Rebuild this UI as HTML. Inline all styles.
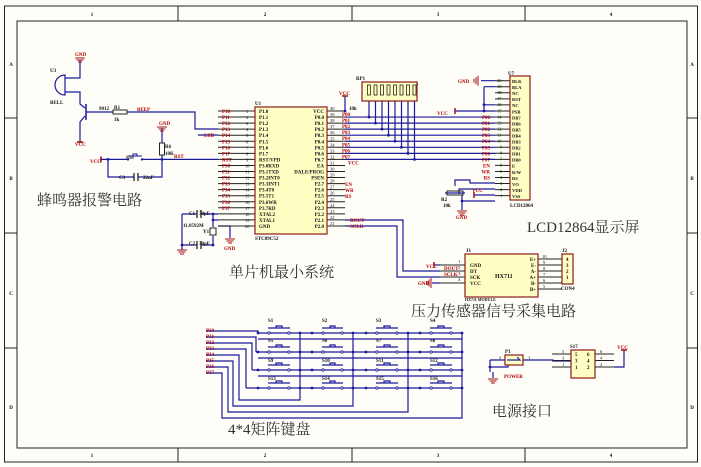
<!DOCTYPE html>
<html><head><meta charset="utf-8"><style>
html,body{margin:0;padding:0;background:#fffdf8;}
svg{display:block;font-family:"Liberation Serif","Noto Serif CJK SC",serif;}
.w{stroke:#1a1a9c;stroke-width:1.2;fill:none}
.k{stroke:#222;stroke-width:1;fill:none}
.chip{fill:#ffffc4;stroke:#8b1a1a;stroke-width:1.2}
.r{fill:#b00000;font-size:5px;font-weight:bold}
.b{fill:#111;font-size:5px;font-weight:bold}
.n{fill:#111;font-size:4.5px}
.big{fill:#333;font-size:15px;font-family:"Liberation Serif","Noto Serif CJK SC",serif}
</style></head><body>
<svg id="s" width="701" height="467" viewBox="0 0 701 467" xmlns="http://www.w3.org/2000/svg">
<rect x="4.5" y="6" width="693" height="456" fill="none" stroke="#222"/>
<rect x="17" y="21" width="670" height="427" fill="none" stroke="#222"/>
<g class="k"><path d="M178 6V21M352 6V21M525 6V21M178 448V462M352 448V462M525 448V462M4.5 118H17M4.5 233H17M4.5 348H17M687 118H698M687 233H698M687 348H698"/></g>
<g class="b" text-anchor="middle"><text x="92" y="16">1</text><text x="265" y="16">2</text><text x="438" y="16">3</text><text x="611" y="16">4</text>
<text x="92" y="457">1</text><text x="265" y="457">2</text><text x="438" y="457">3</text><text x="611" y="457">4</text>
<text x="11" y="66">A</text><text x="11" y="180">B</text><text x="11" y="295">C</text><text x="11" y="409">D</text>
<text x="692" y="66">A</text><text x="692" y="180">B</text><text x="692" y="295">C</text><text x="692" y="409">D</text></g>

<g id="wires"></g>
<rect class="chip" x="255" y="107" width="72" height="127"/>
<rect class="chip" x="510" y="76" width="20" height="124"/>
<rect class="chip" x="362" y="82" width="55" height="19"/>
<rect class="chip" x="465" y="254" width="73" height="43"/>
<rect class="chip" x="562" y="254" width="11" height="30"/>
<rect class="chip" x="505" y="355" width="18" height="10"/>
<rect class="chip" x="571" y="350" width="24" height="28"/>
<g id="parts"></g>

<text class="b" x="255" y="105">U1</text>
<text class="b" x="255" y="240">STC89C52</text>
<text class="r"><tspan x="222" y="113">P10</tspan><tspan x="222" dy="6.05">P11</tspan><tspan x="222" dy="6.05">P12</tspan><tspan x="222" dy="6.05">P13</tspan><tspan x="222" dy="6.05">P14</tspan><tspan x="222" dy="6.05">P15</tspan><tspan x="222" dy="6.05">P16</tspan><tspan x="222" dy="6.05">P17</tspan><tspan x="222" dy="6.05">RST</tspan><tspan x="222" dy="6.05">P30</tspan><tspan x="222" dy="6.05">P31</tspan><tspan x="222" dy="6.05">P32</tspan><tspan x="222" dy="6.05">P33</tspan><tspan x="222" dy="6.05">P34</tspan><tspan x="222" dy="6.05">P35</tspan><tspan x="222" dy="6.05">P36</tspan><tspan x="222" dy="6.05">P37</tspan></text>
<text class="n"><tspan x="246" y="113">1</tspan><tspan x="246" dy="6.05">2</tspan><tspan x="246" dy="6.05">3</tspan><tspan x="246" dy="6.05">4</tspan><tspan x="246" dy="6.05">5</tspan><tspan x="246" dy="6.05">6</tspan><tspan x="246" dy="6.05">7</tspan><tspan x="246" dy="6.05">8</tspan><tspan x="246" dy="6.05">9</tspan><tspan x="245" dy="6.05">10</tspan><tspan x="245" dy="6.05">11</tspan><tspan x="245" dy="6.05">12</tspan><tspan x="245" dy="6.05">13</tspan><tspan x="245" dy="6.05">14</tspan><tspan x="245" dy="6.05">15</tspan><tspan x="245" dy="6.05">16</tspan><tspan x="245" dy="6.05">17</tspan><tspan x="245" dy="6.05">18</tspan><tspan x="245" dy="6.05">19</tspan><tspan x="245" dy="6.05">20</tspan></text>
<text class="b"><tspan x="259" y="113">P1.0</tspan><tspan x="259" dy="6.05">P1.1</tspan><tspan x="259" dy="6.05">P1.2</tspan><tspan x="259" dy="6.05">P1.3</tspan><tspan x="259" dy="6.05">P1.4</tspan><tspan x="259" dy="6.05">P1.5</tspan><tspan x="259" dy="6.05">P1.6</tspan><tspan x="259" dy="6.05">P1.7</tspan><tspan x="259" dy="6.05">RST/VPD</tspan><tspan x="259" dy="6.05">P3.0RXD</tspan><tspan x="259" dy="6.05">P3.1TXD</tspan><tspan x="259" dy="6.05">P3.2INT0</tspan><tspan x="259" dy="6.05">P3.3INT1</tspan><tspan x="259" dy="6.05">P3.4T0</tspan><tspan x="259" dy="6.05">P3.5T1</tspan><tspan x="259" dy="6.05">P3.6WR</tspan><tspan x="259" dy="6.05">P3.7RD</tspan><tspan x="259" dy="6.05">XTAL2</tspan><tspan x="259" dy="6.05">XTAL1</tspan><tspan x="259" dy="6.05">GND</tspan></text>
<text class="b" text-anchor="end"><tspan x="324" y="113">VCC</tspan><tspan x="324" dy="6.05">P0.0</tspan><tspan x="324" dy="6.05">P0.1</tspan><tspan x="324" dy="6.05">P0.2</tspan><tspan x="324" dy="6.05">P0.3</tspan><tspan x="324" dy="6.05">P0.4</tspan><tspan x="324" dy="6.05">P0.5</tspan><tspan x="324" dy="6.05">P0.6</tspan><tspan x="324" dy="6.05">P0.7</tspan><tspan x="324" dy="6.05">EA</tspan><tspan x="324" dy="6.05">DALE/PROG</tspan><tspan x="324" dy="6.05">PSEN</tspan><tspan x="324" dy="6.05">P2.7</tspan><tspan x="324" dy="6.05">P2.6</tspan><tspan x="324" dy="6.05">P2.5</tspan><tspan x="324" dy="6.05">P2.4</tspan><tspan x="324" dy="6.05">P2.3</tspan><tspan x="324" dy="6.05">P2.2</tspan><tspan x="324" dy="6.05">P2.1</tspan><tspan x="324" dy="6.05">P2.0</tspan></text>
<text class="n"><tspan x="330" y="110">40</tspan><tspan x="330" dy="6.05">39</tspan><tspan x="330" dy="6.05">38</tspan><tspan x="330" dy="6.05">37</tspan><tspan x="330" dy="6.05">36</tspan><tspan x="330" dy="6.05">35</tspan><tspan x="330" dy="6.05">34</tspan><tspan x="330" dy="6.05">33</tspan><tspan x="330" dy="6.05">32</tspan><tspan x="330" dy="6.05">31</tspan><tspan x="330" dy="6.05">30</tspan><tspan x="330" dy="6.05">29</tspan><tspan x="330" dy="6.05">28</tspan><tspan x="330" dy="6.05">27</tspan><tspan x="330" dy="6.05">26</tspan><tspan x="330" dy="6.05">25</tspan><tspan x="330" dy="6.05">24</tspan><tspan x="330" dy="6.05">23</tspan><tspan x="330" dy="6.05">22</tspan><tspan x="330" dy="6.05">21</tspan></text>
<text class="r"><tspan x="342" y="116">P00</tspan><tspan x="342" dy="6.05">P01</tspan><tspan x="342" dy="6.05">P02</tspan><tspan x="342" dy="6.05">P03</tspan><tspan x="342" dy="6.05">P04</tspan><tspan x="342" dy="6.05">P05</tspan><tspan x="342" dy="6.05">P06</tspan><tspan x="342" dy="6.05">P07</tspan><tspan x="348" dy="6.05">VCC</tspan></text>
<text class="r"><tspan x="345" y="186">EN</tspan><tspan x="345" dy="6.05">WR</tspan><tspan x="345" dy="6.05">RS</tspan><tspan x="350" y="222">DOUT</tspan><tspan x="350" dy="6.05">SCLK</tspan></text>

<text class="b" x="508" y="75">U7</text>
<text class="b" x="510" y="207">LCD12864</text>
<text class="n"><tspan x="497" y="82">20</tspan><tspan x="497" dy="6.05">19</tspan><tspan x="497" dy="6.05">18</tspan><tspan x="497" dy="6.05">17</tspan><tspan x="497" dy="6.05">16</tspan><tspan x="497" dy="6.05">15</tspan><tspan x="497" dy="6.05">14</tspan><tspan x="497" dy="6.05">13</tspan><tspan x="497" dy="6.05">12</tspan><tspan x="497" dy="6.05">11</tspan><tspan x="497" dy="6.05">10</tspan><tspan x="500" dy="6.05">9</tspan><tspan x="500" dy="6.05">8</tspan><tspan x="500" dy="6.05">7</tspan><tspan x="500" dy="6.05">6</tspan><tspan x="500" dy="6.05">5</tspan><tspan x="500" dy="6.05">4</tspan><tspan x="500" dy="6.05">3</tspan><tspan x="500" dy="6.05">2</tspan><tspan x="500" dy="6.05">1</tspan></text>
<text class="b" style="font-size:4.6px"><tspan x="512" y="83">BLK</tspan><tspan x="512" dy="6.05">BLA</tspan><tspan x="512" dy="6.05">NC</tspan><tspan x="512" dy="6.05">RST</tspan><tspan x="512" dy="6.05">NC</tspan><tspan x="512" dy="6.05">PSB</tspan><tspan x="512" dy="6.05">DB7</tspan><tspan x="512" dy="6.05">DB6</tspan><tspan x="512" dy="6.05">DB5</tspan><tspan x="512" dy="6.05">DB4</tspan><tspan x="512" dy="6.05">DB3</tspan><tspan x="512" dy="6.05">DB2</tspan><tspan x="512" dy="6.05">DB1</tspan><tspan x="512" dy="6.05">DB0</tspan><tspan x="512" dy="6.05">E</tspan><tspan x="512" dy="6.05">R/W</tspan><tspan x="512" dy="6.05">RS</tspan><tspan x="512" dy="6.05">VO</tspan><tspan x="512" dy="6.05">VDD</tspan><tspan x="512" dy="6.05">VSS</tspan></text>
<text class="r" text-anchor="end"><tspan x="490" y="119">P00</tspan><tspan x="490" dy="6.05">P01</tspan><tspan x="490" dy="6.05">P02</tspan><tspan x="490" dy="6.05">P03</tspan><tspan x="490" dy="6.05">P04</tspan><tspan x="490" dy="6.05">P05</tspan><tspan x="490" dy="6.05">P06</tspan><tspan x="490" dy="6.05">P07</tspan><tspan x="490" dy="6.05">EN</tspan><tspan x="490" dy="6.05">WR</tspan><tspan x="490" dy="6.05">RS</tspan></text>
<text class="r" x="458" y="83">GND</text>
<text class="r" x="437" y="115">VCC</text>
<text class="r" x="472" y="192">VCC</text>
<text class="r" x="456" y="219">GND</text>
<text class="b" x="441" y="201">R2</text><text class="b" x="443" y="207">10k</text>
<text class="b" x="356" y="80">RP1</text>
<text class="r" x="339" y="95">VCC</text>
<text class="b" x="349" y="110">10k</text>

<text class="b" x="466" y="252">J1</text>
<text class="b" x="562" y="252">J2</text>
<text class="n"><tspan x="458" y="263">1</tspan><tspan x="458" y="269">2</tspan><tspan x="458" y="275">3</tspan><tspan x="458" y="281">4</tspan></text>
<text class="b"><tspan x="470" y="267">GND</tspan><tspan x="470" y="273">DT</tspan><tspan x="470" y="279">SCK</tspan><tspan x="470" y="285">VCC</tspan></text>
<text class="b" x="495" y="278" style="font-size:6px">HX711</text>
<text class="b" text-anchor="end"><tspan x="536" y="261">E+</tspan><tspan x="536" dy="6">E-</tspan><tspan x="536" dy="6">A-</tspan><tspan x="536" dy="6">A+</tspan><tspan x="536" dy="6">B-</tspan><tspan x="536" dy="6">B+</tspan></text>
<text class="n"><tspan x="542" y="258">10</tspan><tspan x="543" dy="6">9</tspan><tspan x="543" dy="6">8</tspan><tspan x="543" dy="6">7</tspan><tspan x="543" dy="6">6</tspan><tspan x="543" dy="6">5</tspan></text>
<text class="b"><tspan x="566" y="261">4</tspan><tspan x="566" dy="6">3</tspan><tspan x="566" dy="6">2</tspan><tspan x="566" dy="6">1</tspan></text>
<text class="b" x="561" y="290">CON4</text>
<text class="b" x="465" y="301" style="font-size:4px">HX711 MODULE</text>
<text class="r" x="426" y="268">VCC</text>
<text class="r" x="444" y="270">DOUT</text>
<text class="r" x="444" y="276">SCLK</text>
<text class="r" x="418" y="285">GND</text>

<text class="b" x="50" y="72">U3</text>
<text class="b" x="50" y="104">BELL</text>
<text class="r" x="75" y="56">GND</text>
<text class="r" x="75" y="146">VCC</text>
<text class="b" x="99" y="110">9012</text>
<text class="b" x="114" y="109">R1</text><text class="b" x="114" y="121">1k</text>
<text class="r" x="137" y="111">BEEP</text>
<text class="r" x="204" y="137">LED</text>
<text class="r" x="159" y="125">GND</text>
<text class="b" x="165" y="148">R6</text><text class="b" x="165" y="155">10K</text>
<text class="b" x="126" y="159">S18</text>
<text class="r" x="174" y="158">RST</text>
<text class="r" x="90" y="163">VCC</text>
<text class="b" x="119" y="179">C3</text><text class="b" x="143" y="179">22uF</text>
<text class="b" x="189" y="215">C1</text><text class="b" x="199" y="215">30pF</text>
<text class="b" x="189" y="245">C2</text><text class="b" x="199" y="245">30pF</text>
<text class="b" x="183" y="227">11.0592M</text><text class="b" x="203" y="233">Y1</text>
<text class="r" x="224" y="250">GND</text>

<text class="r"><tspan x="206" y="332">P30</tspan><tspan x="206" dy="6">P31</tspan><tspan x="206" dy="6">P32</tspan><tspan x="206" dy="6">P33</tspan><tspan x="206" dy="6">P34</tspan><tspan x="206" dy="6">P35</tspan><tspan x="206" dy="6">P36</tspan><tspan x="206" dy="6">P37</tspan></text>
<g class="b">
<text x="268" y="322">S1</text><text x="322" y="322">S2</text><text x="376" y="322">S3</text><text x="430" y="322">S4</text>
<text x="268" y="342">S5</text><text x="322" y="342">S6</text><text x="376" y="342">S7</text><text x="430" y="342">S8</text>
<text x="268" y="362">S9</text><text x="322" y="362">S10</text><text x="376" y="362">S11</text><text x="430" y="362">S12</text>
<text x="268" y="380">S13</text><text x="322" y="380">S14</text><text x="376" y="380">S15</text><text x="430" y="380">S16</text>
</g>
<text class="b" x="505" y="353">P1</text><text class="n" x="499" y="359">2</text><text class="n" x="528" y="359">1</text>
<text class="r" x="504" y="378">POWER</text>
<text class="b" x="570" y="348">S17</text>
<text class="b"><tspan x="575" y="356">5</tspan><tspan x="575" dy="6.5">3</tspan><tspan x="575" dy="6.5">1</tspan><tspan x="587" y="356">6</tspan><tspan x="587" dy="6.5">4</tspan><tspan x="587" dy="6.5">2</tspan></text>
<text class="n"><tspan x="562" y="353">5</tspan><tspan x="562" dy="6.5">3</tspan><tspan x="562" dy="6.5">1</tspan><tspan x="600" y="353">6</tspan><tspan x="600" dy="6.5">4</tspan><tspan x="600" dy="6.5">2</tspan></text>
<text class="r" x="617" y="349">VCC</text>

<text class="big" x="37" y="205">蜂鸣器报警电路</text>
<text class="big" x="229" y="277">单片机最小系统</text>
<text class="big" x="527" y="232">LCD12864显示屏</text>
<text class="big" x="411" y="316">压力传感器信号采集电路</text>
<text class="big" x="228" y="434">4*4矩阵键盘</text>
<text class="big" x="492" y="416">电源接口</text>
</svg>
<script>
(function(){
var W=document.getElementById('wires'),P=document.getElementById('parts'),NS='http://www.w3.org/2000/svg';
function el(g,t,a){var e=document.createElementNS(NS,t);for(var k in a)e.setAttribute(k,a[k]);g.appendChild(e);return e;}
var d='';function L(){var a=arguments;d+='M'+a[0]+' '+a[1];for(var i=2;i<a.length;i+=2)d+='L'+a[i]+' '+a[i+1];}
var dk='';function K(x1,y1,x2,y2){dk+='M'+x1+' '+y1+'L'+x2+' '+y2;}
function dot(x,y){el(P,'circle',{cx:x,cy:y,r:1.4,fill:'#1a1a9c'});}
var red='#a01010';
function gnd(x,y,dir){
 if(!dir){el(P,'path',{d:'M'+(x-5)+' '+y+'H'+(x+5)+'M'+(x-3.5)+' '+(y+2)+'H'+(x+3.5)+'M'+(x-2)+' '+(y+4)+'H'+(x+2),stroke:red,fill:'none'});}
 else {el(P,'path',{d:'M'+x+' '+(y-5)+'V'+(y+5)+'M'+(x-2)+' '+(y-3.5)+'V'+(y+3.5)+'M'+(x-4)+' '+(y-2)+'V'+(y+2),stroke:red,fill:'none'});}
}
function bar(x,y,v){ if(v) el(P,'path',{d:'M'+x+' '+(y-3)+'V'+(y+3),stroke:red,'stroke-width':1.5}); else el(P,'path',{d:'M'+(x-3)+' '+y+'H'+(x+3),stroke:red,'stroke-width':1.5});}
var s=6.05,i;
for(i=0;i<20;i++){var y=111+s*i;K(218,y,255,y);K(327,y,345,y);}
for(i=0;i<8;i++){var y=117.05+s*i;L(345,y,495,y);dot(369+6.5*i,y);L(369+6.5*i,96,369+6.5*i,y);}
for(i=0;i<20;i++){var y=80.7+s*i;K(495,y,510,y);}
for(i=0;i<8;i++){el(P,'rect',{x:367.5+6.5*i,y:85,width:3,height:10,fill:'none',stroke:'#222','stroke-width':0.8});}
L(366,90,366,84,418,84);
L(345,96,345,111);dot(345,111);bar(345,96,0);
gnd(478,80.7,1);L(481,80.7,495,80.7);
L(484,86.7,484,104.8);L(484,86.7,495,86.7);L(484,104.8,495,104.8);dot(484,104.8);
L(484,104.8,484,111);L(455,111,495,111);dot(484,111);bar(455,111,1);
L(495,189,459,189,459,194);L(445,193,465,193);el(P,'rect',{x:447,y:191,width:16,height:4,fill:'none',stroke:'#222'});
L(455,186,455,180,470,180,470,183,495,183);
L(474,195,495,195);bar(474,195,1);L(462,195,462,201,495,201);dot(462,201);L(462,201,462,210);gnd(462,211);
L(345,220,403,220,403,271,440,271);L(345,226,397,226,397,277,440,277);
for(i=0;i<4;i++)K(440,265+6*i,465,265+6*i);
L(434,265,440,265);bar(434,265,1);L(432,283,440,283);gnd(431,283,1);
for(i=0;i<6;i++)K(538,259+6*i,562,259+6*i);
el(P,'path',{d:'M65 75A10 10 0 0 0 65 95Z',fill:'none',stroke:'#1a1a9c','stroke-width':1.2});
L(65,78,80,78,80,60);gnd(80,58);
L(65,92,80,92,80,104,85,108);L(85,116,80,122,80,142);bar(80,142,0);
el(P,'path',{d:'M86 104V120',stroke:'#1a1a9c','stroke-width':1.5});
L(86,112,113,112);el(P,'rect',{x:113,y:110,width:14,height:4,fill:'none',stroke:'#222'});
L(127,112,195,112,195,129,218,129);L(198,135,218,135);
L(162,128,162,143);gnd(162,127);el(P,'rect',{x:159.5,y:143,width:5,height:12,fill:'none',stroke:'#222'});
L(162,155,162,159.4);L(108,159.4,127,159.4);L(143,159.4,218,159.4);dot(162,159.4);dot(108,159.4);
el(P,'path',{d:'M128 156H142M133 156V154H137V156',stroke:'#1a1a9c',fill:'none'});
el(P,'circle',{cx:128,cy:159.4,r:1.2,fill:'#1a1a9c'});el(P,'circle',{cx:142,cy:159.4,r:1.2,fill:'#1a1a9c'});
L(100,159.4,108,159.4);bar(101,159.4,1);
L(108,159.4,108,177,134,177);L(138,177,162,177,162,159.4);
el(P,'path',{d:'M134 173V181M138 173V181',stroke:'#222','stroke-width':1.3});
L(182,214,197,214);L(201,214,218,214);el(P,'path',{d:'M197 210V218M201 210V218',stroke:'#222','stroke-width':1.3});
L(182,245,197,245);L(201,245,213,245);el(P,'path',{d:'M197 241V249M201 241V249',stroke:'#222','stroke-width':1.3});
L(182,214,182,250);dot(182,245);gnd(182,250);
L(213,214,213,227);el(P,'rect',{x:210,y:228,width:6,height:7,fill:'none',stroke:'#222'});L(213,236,213,245);dot(213,214);dot(213,245);
L(213,220,218,220);dot(213,220);
L(218,226,230,226,230,238);gnd(230,239);
var RL=[258,312,366,420],RR=[300,353,408,462],RY=[333,352,370,388];
var PY=[331,337,343,349,355,361,367,373];
var rx=[258,256,252,246];
for(var r=0;r<4;r++){
 L(206,PY[r],rx[r],PY[r],rx[r],RY[r]);
 L(rx[r],RY[r],462,RY[r]);
 for(var c=0;c<4;c++){
  var x1=RL[c],x2=RR[c],y=RY[r];
  dot(x1,y);dot(x2,y);
  el(P,'path',{d:'M'+(x1+10)+' '+(y-5)+'H'+(x2-10)+'M'+(x1+18)+' '+(y-5)+'V'+(y-7)+'H'+(x2-18)+'V'+(y-5),stroke:'#1a1a9c',fill:'none','stroke-width':1.2});
  el(P,'circle',{cx:x1+11,cy:y,r:1.2,fill:'#fffdf8',stroke:'#1a1a9c','stroke-width':.8});
  el(P,'circle',{cx:x2-11,cy:y,r:1.2,fill:'#fffdf8',stroke:'#1a1a9c','stroke-width':.8});
 }
 if(r<3)L(RL[0]+0,RY[r]+6,RR[3],RY[r]+6);
}
var cx=[239,233,228,222],cy=[400,406,412,418];
for(var c=0;c<4;c++){L(206,PY[4+c],cx[c],PY[4+c],cx[c],cy[c],RR[c],cy[c],RR[c],RY[0]);}
L(490,360,505,360);L(490,360,490,372);dot(490,367);L(490,367,508,367,508,365);L(493,372,493,378);gnd(493,379);
el(P,'path',{d:'M507 360H520L517 357',stroke:'#1a1a9c',fill:'none','stroke-width':1.2});
L(523,360,553,360,553,361,571,361);
for(i=0;i<3;i++){K(552,354+6.5*i,571,354+6.5*i);K(595,354+6.5*i,614,354+6.5*i);}
L(614,367,624,367,624,350);bar(624,350,0);
el(W,'path',{d:d,class:'w'});el(W,'path',{d:dk,class:'k'});
})();
</script>
</body></html>
